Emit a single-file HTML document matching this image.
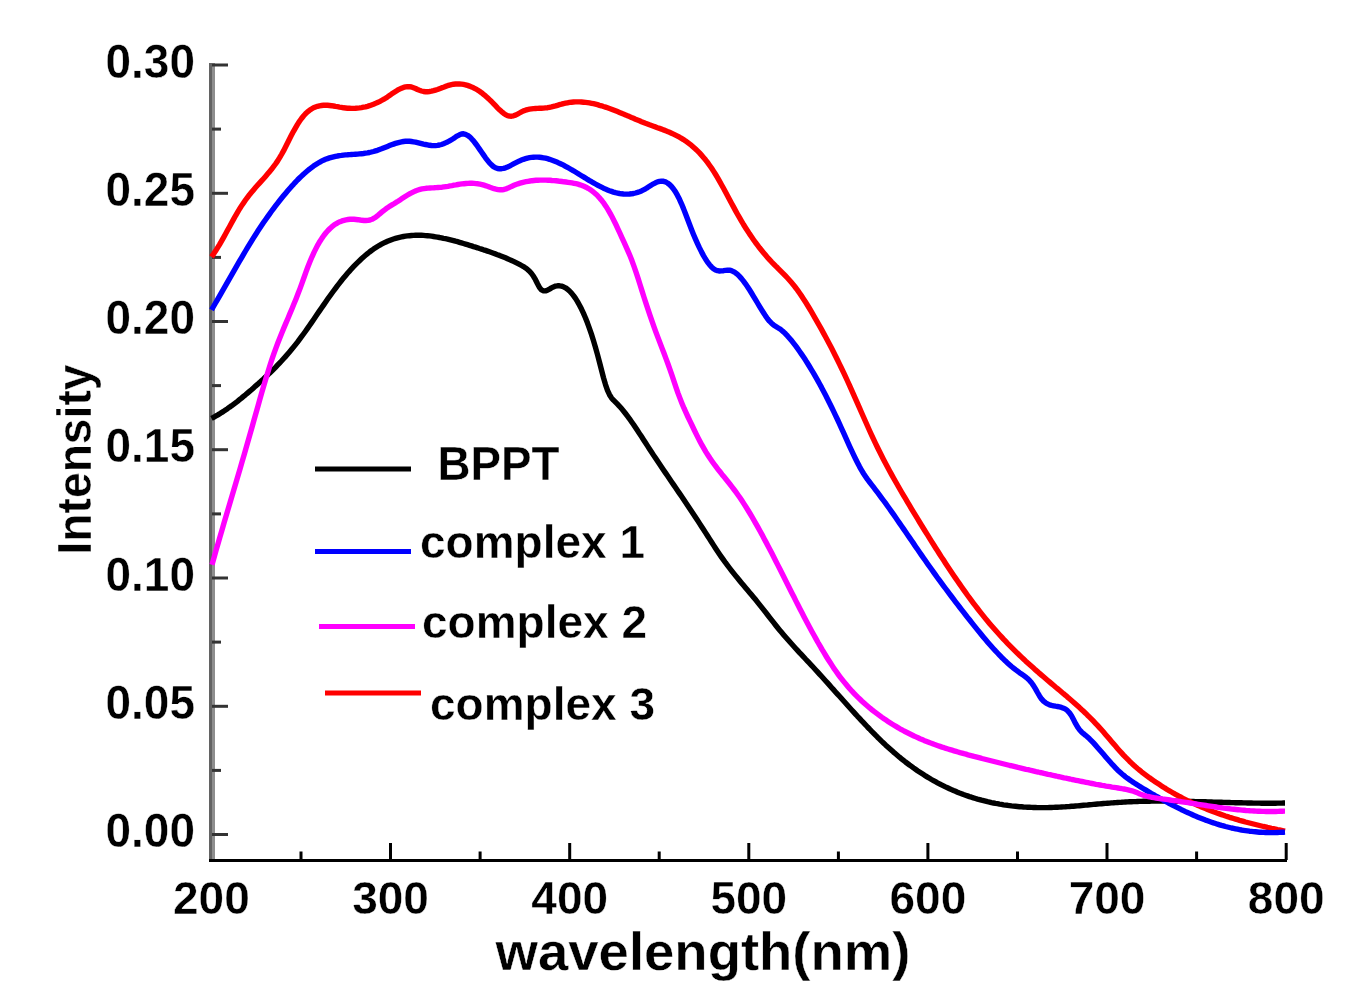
<!DOCTYPE html>
<html><head><meta charset="utf-8"><style>
html,body{margin:0;padding:0;background:#fff;}
svg{display:block;filter:blur(0.45px);}
text{font-family:"Liberation Sans",sans-serif;font-weight:bold;font-size:46px;fill:#000;stroke:#fff;stroke-width:0.40px;}
</style></head><body>
<svg width="1345" height="1007" viewBox="0 0 1345 1007">
<rect x="209" y="63" width="3" height="799" fill="#636363"/>
<rect x="212" y="63" width="3" height="796" fill="#8e8e8e"/>
<rect x="209" y="859" width="1078" height="3" fill="#000"/>
<rect x="212" y="833.0" width="16" height="3" fill="#333"/>
<rect x="212" y="768.9" width="9" height="3" fill="#333"/>
<rect x="212" y="704.8" width="16" height="3" fill="#333"/>
<rect x="212" y="640.6" width="9" height="3" fill="#333"/>
<rect x="212" y="576.5" width="16" height="3" fill="#333"/>
<rect x="212" y="512.4" width="9" height="3" fill="#333"/>
<rect x="212" y="448.2" width="16" height="3" fill="#333"/>
<rect x="212" y="384.1" width="9" height="3" fill="#333"/>
<rect x="212" y="320.0" width="16" height="3" fill="#333"/>
<rect x="212" y="255.9" width="9" height="3" fill="#333"/>
<rect x="212" y="191.8" width="16" height="3" fill="#333"/>
<rect x="212" y="127.6" width="9" height="3" fill="#333"/>
<rect x="212" y="63.5" width="16" height="3" fill="#333"/>
<rect x="299.5" y="851.5" width="3" height="8.5" fill="#000"/>
<rect x="389.0" y="843.0" width="3" height="17.0" fill="#000"/>
<rect x="478.6" y="851.5" width="3" height="8.5" fill="#000"/>
<rect x="568.2" y="843.0" width="3" height="17.0" fill="#000"/>
<rect x="657.7" y="851.5" width="3" height="8.5" fill="#000"/>
<rect x="747.3" y="843.0" width="3" height="17.0" fill="#000"/>
<rect x="836.9" y="851.5" width="3" height="8.5" fill="#000"/>
<rect x="926.4" y="843.0" width="3" height="17.0" fill="#000"/>
<rect x="1016.0" y="851.5" width="3" height="8.5" fill="#000"/>
<rect x="1105.5" y="843.0" width="3" height="17.0" fill="#000"/>
<rect x="1195.1" y="851.5" width="3" height="8.5" fill="#000"/>
<rect x="1284.7" y="843.0" width="3" height="17.0" fill="#000"/>
<path d="M211.5,418.4 L213.5,417.4 L215.5,416.2 L217.5,415.1 L219.5,413.9 L221.5,412.6 L223.5,411.4 L225.5,410.0 L227.5,408.7 L229.5,407.2 L231.5,405.8 L233.5,404.3 L235.5,402.8 L237.5,401.3 L239.5,399.7 L241.5,398.1 L243.5,396.4 L245.5,394.8 L247.5,393.1 L249.5,391.4 L251.5,389.7 L253.5,387.9 L255.5,386.1 L257.5,384.4 L259.5,382.6 L261.5,380.7 L263.5,378.9 L265.5,377.0 L267.5,375.2 L269.5,373.2 L271.5,371.3 L273.5,369.3 L275.5,367.3 L277.5,365.2 L279.5,363.1 L281.5,361.0 L283.5,358.8 L285.5,356.6 L287.5,354.3 L289.5,352.0 L291.5,349.6 L293.5,347.1 L295.5,344.6 L297.5,342.1 L299.5,339.4 L301.5,336.7 L303.5,334.0 L305.5,331.2 L307.5,328.4 L309.5,325.5 L311.5,322.6 L313.5,319.7 L315.5,316.8 L317.5,313.8 L319.5,310.9 L321.5,308.0 L323.5,305.1 L325.5,302.2 L327.5,299.3 L329.5,296.5 L331.5,293.7 L333.5,291.0 L335.5,288.3 L337.5,285.6 L339.5,283.1 L341.5,280.5 L343.5,278.1 L345.5,275.7 L347.5,273.3 L349.5,271.1 L351.5,268.8 L353.5,266.7 L355.5,264.6 L357.5,262.6 L359.5,260.7 L361.5,258.8 L363.5,257.0 L365.5,255.3 L367.5,253.6 L369.5,252.0 L371.5,250.5 L373.5,249.1 L375.5,247.8 L377.5,246.5 L379.5,245.3 L381.5,244.2 L383.5,243.2 L385.5,242.2 L387.5,241.3 L389.5,240.5 L391.5,239.7 L393.5,239.0 L395.5,238.4 L397.5,237.8 L399.5,237.3 L401.5,236.9 L403.5,236.5 L405.5,236.2 L407.5,235.9 L409.5,235.7 L411.5,235.5 L413.5,235.4 L415.5,235.3 L417.5,235.3 L419.5,235.3 L421.5,235.3 L423.5,235.4 L425.5,235.6 L427.5,235.7 L429.5,235.9 L431.5,236.2 L433.5,236.5 L435.5,236.8 L437.5,237.1 L439.5,237.5 L441.5,237.8 L443.5,238.3 L445.5,238.7 L447.5,239.1 L449.5,239.6 L451.5,240.1 L453.5,240.6 L455.5,241.2 L457.5,241.7 L459.5,242.3 L461.5,242.9 L463.5,243.5 L465.5,244.1 L467.5,244.7 L469.5,245.3 L471.5,245.9 L473.5,246.6 L475.5,247.2 L477.5,247.8 L479.5,248.5 L481.5,249.1 L483.5,249.8 L485.5,250.4 L487.5,251.1 L489.5,251.8 L491.5,252.5 L493.5,253.2 L495.5,253.9 L497.5,254.7 L499.5,255.4 L501.5,256.2 L503.5,257.0 L505.5,257.8 L507.5,258.7 L509.5,259.6 L511.5,260.5 L513.5,261.4 L515.5,262.4 L517.5,263.4 L519.5,264.4 L521.5,265.5 L523.5,266.6 L525.5,267.9 L527.5,269.4 L529.5,271.2 L531.5,273.5 L533.5,276.3 L535.5,279.7 L537.5,283.8 L539.5,287.6 L541.5,289.9 L543.5,290.9 L545.5,290.9 L547.5,290.2 L549.5,289.1 L551.5,287.9 L553.5,286.9 L555.5,286.1 L557.5,285.8 L559.5,285.8 L561.5,286.1 L563.5,286.8 L565.5,287.8 L567.5,289.2 L569.5,291.0 L571.5,293.1 L573.5,295.6 L575.5,298.4 L577.5,301.6 L579.5,305.2 L581.5,309.1 L583.5,313.4 L585.5,318.0 L587.5,323.1 L589.5,328.6 L591.5,334.4 L593.5,340.7 L595.5,347.4 L597.5,354.6 L599.5,362.2 L601.5,370.0 L603.5,377.7 L605.5,384.6 L607.5,390.4 L609.5,394.7 L611.5,397.9 L613.5,400.2 L615.5,402.2 L617.5,404.2 L619.5,406.3 L621.5,408.6 L623.5,411.0 L625.5,413.5 L627.5,416.1 L629.5,418.8 L631.5,421.7 L633.5,424.5 L635.5,427.5 L637.5,430.5 L639.5,433.6 L641.5,436.6 L643.5,439.7 L645.5,442.8 L647.5,445.9 L649.5,449.0 L651.5,452.0 L653.5,455.1 L655.5,458.1 L657.5,461.1 L659.5,464.0 L661.5,467.0 L663.5,470.0 L665.5,472.9 L667.5,475.8 L669.5,478.8 L671.5,481.7 L673.5,484.6 L675.5,487.5 L677.5,490.5 L679.5,493.4 L681.5,496.3 L683.5,499.3 L685.5,502.2 L687.5,505.2 L689.5,508.2 L691.5,511.2 L693.5,514.2 L695.5,517.3 L697.5,520.3 L699.5,523.4 L701.5,526.5 L703.5,529.5 L705.5,532.6 L707.5,535.8 L709.5,538.9 L711.5,542.0 L713.5,545.1 L715.5,548.2 L717.5,551.2 L719.5,554.2 L721.5,557.1 L723.5,559.9 L725.5,562.7 L727.5,565.3 L729.5,568.0 L731.5,570.6 L733.5,573.1 L735.5,575.6 L737.5,578.0 L739.5,580.5 L741.5,582.9 L743.5,585.3 L745.5,587.7 L747.5,590.1 L749.5,592.4 L751.5,594.8 L753.5,597.2 L755.5,599.6 L757.5,602.1 L759.5,604.6 L761.5,607.1 L763.5,609.6 L765.5,612.2 L767.5,614.7 L769.5,617.3 L771.5,619.9 L773.5,622.4 L775.5,625.0 L777.5,627.5 L779.5,629.9 L781.5,632.3 L783.5,634.7 L785.5,637.0 L787.5,639.3 L789.5,641.6 L791.5,643.8 L793.5,646.0 L795.5,648.2 L797.5,650.4 L799.5,652.6 L801.5,654.7 L803.5,656.8 L805.5,659.0 L807.5,661.1 L809.5,663.2 L811.5,665.4 L813.5,667.5 L815.5,669.7 L817.5,671.9 L819.5,674.1 L821.5,676.3 L823.5,678.5 L825.5,680.7 L827.5,682.9 L829.5,685.1 L831.5,687.4 L833.5,689.6 L835.5,691.9 L837.5,694.1 L839.5,696.3 L841.5,698.6 L843.5,700.8 L845.5,703.0 L847.5,705.3 L849.5,707.5 L851.5,709.7 L853.5,711.9 L855.5,714.1 L857.5,716.3 L859.5,718.4 L861.5,720.6 L863.5,722.7 L865.5,724.8 L867.5,727.0 L869.5,729.0 L871.5,731.1 L873.5,733.1 L875.5,735.2 L877.5,737.2 L879.5,739.1 L881.5,741.1 L883.5,743.0 L885.5,744.9 L887.5,746.7 L889.5,748.5 L891.5,750.3 L893.5,752.1 L895.5,753.8 L897.5,755.5 L899.5,757.2 L901.5,758.8 L903.5,760.4 L905.5,762.0 L907.5,763.5 L909.5,765.0 L911.5,766.4 L913.5,767.9 L915.5,769.3 L917.5,770.7 L919.5,772.0 L921.5,773.3 L923.5,774.6 L925.5,775.9 L927.5,777.1 L929.5,778.3 L931.5,779.5 L933.5,780.6 L935.5,781.7 L937.5,782.8 L939.5,783.8 L941.5,784.9 L943.5,785.9 L945.5,786.9 L947.5,787.8 L949.5,788.7 L951.5,789.6 L953.5,790.5 L955.5,791.3 L957.5,792.2 L959.5,793.0 L961.5,793.7 L963.5,794.5 L965.5,795.2 L967.5,795.9 L969.5,796.6 L971.5,797.2 L973.5,797.9 L975.5,798.5 L977.5,799.1 L979.5,799.6 L981.5,800.2 L983.5,800.7 L985.5,801.2 L987.5,801.7 L989.5,802.1 L991.5,802.6 L993.5,803.0 L995.5,803.4 L997.5,803.7 L999.5,804.1 L1001.5,804.4 L1003.5,804.8 L1005.5,805.1 L1007.5,805.3 L1009.5,805.6 L1011.5,805.9 L1013.5,806.1 L1015.5,806.3 L1017.5,806.5 L1019.5,806.7 L1021.5,806.8 L1023.5,807.0 L1025.5,807.1 L1027.5,807.2 L1029.5,807.3 L1031.5,807.4 L1033.5,807.5 L1035.5,807.5 L1037.5,807.6 L1039.5,807.6 L1041.5,807.6 L1043.5,807.6 L1045.5,807.6 L1047.5,807.6 L1049.5,807.5 L1051.5,807.5 L1053.5,807.4 L1055.5,807.3 L1057.5,807.2 L1059.5,807.1 L1061.5,807.0 L1063.5,806.9 L1065.5,806.8 L1067.5,806.6 L1069.5,806.5 L1071.5,806.3 L1073.5,806.2 L1075.5,806.0 L1077.5,805.9 L1079.5,805.7 L1081.5,805.5 L1083.5,805.3 L1085.5,805.1 L1087.5,805.0 L1089.5,804.8 L1091.5,804.6 L1093.5,804.4 L1095.5,804.2 L1097.5,804.0 L1099.5,803.9 L1101.5,803.7 L1103.5,803.5 L1105.5,803.4 L1107.5,803.2 L1109.5,803.1 L1111.5,802.9 L1113.5,802.8 L1115.5,802.6 L1117.5,802.5 L1119.5,802.4 L1121.5,802.3 L1123.5,802.1 L1125.5,802.0 L1127.5,801.9 L1129.5,801.8 L1131.5,801.7 L1133.5,801.6 L1135.5,801.6 L1137.5,801.5 L1139.5,801.4 L1141.5,801.4 L1143.5,801.3 L1145.5,801.3 L1147.5,801.2 L1149.5,801.2 L1151.5,801.1 L1153.5,801.1 L1155.5,801.1 L1157.5,801.1 L1159.5,801.1 L1161.5,801.1 L1163.5,801.1 L1165.5,801.1 L1167.5,801.1 L1169.5,801.1 L1171.5,801.1 L1173.5,801.1 L1175.5,801.2 L1177.5,801.2 L1179.5,801.2 L1181.5,801.2 L1183.5,801.3 L1185.5,801.3 L1187.5,801.4 L1189.5,801.4 L1191.5,801.5 L1193.5,801.5 L1195.5,801.6 L1197.5,801.6 L1199.5,801.7 L1201.5,801.7 L1203.5,801.8 L1205.5,801.8 L1207.5,801.9 L1209.5,801.9 L1211.5,802.0 L1213.5,802.1 L1215.5,802.1 L1217.5,802.2 L1219.5,802.2 L1221.5,802.3 L1223.5,802.4 L1225.5,802.4 L1227.5,802.5 L1229.5,802.5 L1231.5,802.6 L1233.5,802.6 L1235.5,802.7 L1237.5,802.7 L1239.5,802.8 L1241.5,802.8 L1243.5,802.9 L1245.5,802.9 L1247.5,803.0 L1249.5,803.0 L1251.5,803.0 L1253.5,803.1 L1255.5,803.1 L1257.5,803.1 L1259.5,803.1 L1261.5,803.2 L1263.5,803.2 L1265.5,803.2 L1267.5,803.2 L1269.5,803.2 L1271.5,803.2 L1273.5,803.2 L1275.5,803.2 L1277.5,803.1 L1279.5,803.1 L1281.5,803.1 L1283.5,803.0 L1285.0,803.0" fill="none" stroke="#000" stroke-width="5.4" stroke-linejoin="round"/>
<path d="M211.5,256.9 L213.5,254.1 L215.5,251.1 L217.5,247.9 L219.5,244.6 L221.5,241.1 L223.5,237.6 L225.5,234.0 L227.5,230.3 L229.5,226.7 L231.5,223.0 L233.5,219.4 L235.5,215.8 L237.5,212.4 L239.5,209.0 L241.5,205.9 L243.5,202.9 L245.5,200.0 L247.5,197.3 L249.5,194.7 L251.5,192.3 L253.5,189.9 L255.5,187.6 L257.5,185.3 L259.5,183.1 L261.5,180.9 L263.5,178.7 L265.5,176.4 L267.5,174.1 L269.5,171.7 L271.5,169.3 L273.5,166.7 L275.5,164.0 L277.5,161.1 L279.5,157.9 L281.5,154.5 L283.5,150.9 L285.5,147.0 L287.5,143.0 L289.5,139.0 L291.5,135.1 L293.5,131.3 L295.5,127.8 L297.5,124.4 L299.5,121.3 L301.5,118.5 L303.5,116.0 L305.5,113.8 L307.5,111.9 L309.5,110.3 L311.5,109.0 L313.5,107.8 L315.5,107.0 L317.5,106.3 L319.5,105.8 L321.5,105.5 L323.5,105.3 L325.5,105.3 L327.5,105.3 L329.5,105.5 L331.5,105.7 L333.5,106.0 L335.5,106.4 L337.5,106.7 L339.5,107.1 L341.5,107.4 L343.5,107.8 L345.5,108.0 L347.5,108.2 L349.5,108.3 L351.5,108.4 L353.5,108.4 L355.5,108.3 L357.5,108.1 L359.5,107.9 L361.5,107.6 L363.5,107.2 L365.5,106.8 L367.5,106.3 L369.5,105.7 L371.5,105.0 L373.5,104.3 L375.5,103.4 L377.5,102.5 L379.5,101.6 L381.5,100.5 L383.5,99.4 L385.5,98.2 L387.5,96.9 L389.5,95.5 L391.5,94.1 L393.5,92.8 L395.5,91.5 L397.5,90.2 L399.5,89.1 L401.5,88.2 L403.5,87.4 L405.5,86.9 L407.5,86.6 L409.5,86.7 L411.5,87.0 L413.5,87.7 L415.5,88.5 L417.5,89.5 L419.5,90.3 L421.5,91.0 L423.5,91.5 L425.5,91.7 L427.5,91.7 L429.5,91.5 L431.5,91.2 L433.5,90.7 L435.5,90.1 L437.5,89.5 L439.5,88.7 L441.5,87.9 L443.5,87.2 L445.5,86.4 L447.5,85.7 L449.5,85.1 L451.5,84.6 L453.5,84.2 L455.5,84.0 L457.5,83.9 L459.5,84.0 L461.5,84.1 L463.5,84.4 L465.5,84.8 L467.5,85.4 L469.5,86.1 L471.5,86.9 L473.5,87.8 L475.5,88.8 L477.5,90.0 L479.5,91.3 L481.5,92.7 L483.5,94.3 L485.5,95.9 L487.5,97.7 L489.5,99.6 L491.5,101.5 L493.5,103.6 L495.5,105.7 L497.5,107.8 L499.5,109.8 L501.5,111.6 L503.5,113.2 L505.5,114.6 L507.5,115.6 L509.5,116.1 L511.5,116.2 L513.5,115.8 L515.5,115.1 L517.5,114.1 L519.5,113.0 L521.5,111.9 L523.5,110.9 L525.5,110.2 L527.5,109.6 L529.5,109.2 L531.5,108.9 L533.5,108.6 L535.5,108.5 L537.5,108.4 L539.5,108.3 L541.5,108.2 L543.5,108.1 L545.5,107.9 L547.5,107.7 L549.5,107.3 L551.5,106.9 L553.5,106.4 L555.5,105.9 L557.5,105.3 L559.5,104.7 L561.5,104.2 L563.5,103.6 L565.5,103.2 L567.5,102.8 L569.5,102.4 L571.5,102.2 L573.5,102.0 L575.5,101.9 L577.5,101.9 L579.5,101.9 L581.5,102.0 L583.5,102.2 L585.5,102.4 L587.5,102.6 L589.5,102.9 L591.5,103.3 L593.5,103.7 L595.5,104.2 L597.5,104.7 L599.5,105.3 L601.5,105.8 L603.5,106.5 L605.5,107.1 L607.5,107.8 L609.5,108.5 L611.5,109.2 L613.5,110.0 L615.5,110.8 L617.5,111.6 L619.5,112.4 L621.5,113.2 L623.5,114.1 L625.5,114.9 L627.5,115.8 L629.5,116.6 L631.5,117.5 L633.5,118.3 L635.5,119.2 L637.5,120.0 L639.5,120.8 L641.5,121.7 L643.5,122.5 L645.5,123.3 L647.5,124.0 L649.5,124.8 L651.5,125.5 L653.5,126.2 L655.5,126.9 L657.5,127.7 L659.5,128.4 L661.5,129.1 L663.5,129.9 L665.5,130.6 L667.5,131.5 L669.5,132.3 L671.5,133.2 L673.5,134.1 L675.5,135.1 L677.5,136.1 L679.5,137.2 L681.5,138.4 L683.5,139.6 L685.5,140.9 L687.5,142.4 L689.5,143.9 L691.5,145.4 L693.5,147.2 L695.5,149.0 L697.5,150.9 L699.5,152.9 L701.5,155.1 L703.5,157.4 L705.5,159.8 L707.5,162.4 L709.5,165.2 L711.5,168.0 L713.5,171.1 L715.5,174.3 L717.5,177.6 L719.5,181.1 L721.5,184.7 L723.5,188.3 L725.5,192.0 L727.5,195.7 L729.5,199.5 L731.5,203.2 L733.5,206.9 L735.5,210.6 L737.5,214.2 L739.5,217.7 L741.5,221.1 L743.5,224.5 L745.5,227.7 L747.5,230.8 L749.5,233.9 L751.5,236.8 L753.5,239.7 L755.5,242.5 L757.5,245.1 L759.5,247.8 L761.5,250.3 L763.5,252.7 L765.5,255.1 L767.5,257.4 L769.5,259.6 L771.5,261.8 L773.5,263.8 L775.5,265.9 L777.5,267.8 L779.5,269.8 L781.5,271.8 L783.5,273.8 L785.5,275.9 L787.5,278.0 L789.5,280.2 L791.5,282.5 L793.5,284.9 L795.5,287.5 L797.5,290.1 L799.5,293.0 L801.5,295.9 L803.5,298.9 L805.5,302.0 L807.5,305.2 L809.5,308.5 L811.5,311.9 L813.5,315.3 L815.5,318.8 L817.5,322.3 L819.5,325.8 L821.5,329.4 L823.5,333.1 L825.5,336.8 L827.5,340.5 L829.5,344.3 L831.5,348.1 L833.5,352.0 L835.5,356.0 L837.5,360.0 L839.5,364.1 L841.5,368.2 L843.5,372.4 L845.5,376.6 L847.5,381.0 L849.5,385.4 L851.5,389.8 L853.5,394.3 L855.5,398.8 L857.5,403.4 L859.5,407.9 L861.5,412.5 L863.5,417.0 L865.5,421.5 L867.5,426.0 L869.5,430.5 L871.5,434.8 L873.5,439.1 L875.5,443.3 L877.5,447.5 L879.5,451.5 L881.5,455.5 L883.5,459.4 L885.5,463.2 L887.5,467.0 L889.5,470.7 L891.5,474.4 L893.5,478.0 L895.5,481.5 L897.5,485.0 L899.5,488.5 L901.5,492.0 L903.5,495.4 L905.5,498.7 L907.5,502.1 L909.5,505.4 L911.5,508.8 L913.5,512.1 L915.5,515.4 L917.5,518.7 L919.5,522.0 L921.5,525.2 L923.5,528.5 L925.5,531.7 L927.5,534.9 L929.5,538.2 L931.5,541.4 L933.5,544.5 L935.5,547.7 L937.5,550.8 L939.5,554.0 L941.5,557.1 L943.5,560.1 L945.5,563.2 L947.5,566.2 L949.5,569.2 L951.5,572.2 L953.5,575.2 L955.5,578.1 L957.5,581.0 L959.5,583.9 L961.5,586.8 L963.5,589.6 L965.5,592.4 L967.5,595.2 L969.5,597.9 L971.5,600.6 L973.5,603.3 L975.5,605.9 L977.5,608.5 L979.5,611.1 L981.5,613.6 L983.5,616.1 L985.5,618.6 L987.5,621.0 L989.5,623.4 L991.5,625.7 L993.5,628.0 L995.5,630.3 L997.5,632.5 L999.5,634.7 L1001.5,636.9 L1003.5,639.1 L1005.5,641.2 L1007.5,643.3 L1009.5,645.3 L1011.5,647.3 L1013.5,649.3 L1015.5,651.3 L1017.5,653.3 L1019.5,655.2 L1021.5,657.1 L1023.5,659.0 L1025.5,660.9 L1027.5,662.7 L1029.5,664.5 L1031.5,666.3 L1033.5,668.1 L1035.5,669.9 L1037.5,671.6 L1039.5,673.4 L1041.5,675.1 L1043.5,676.8 L1045.5,678.5 L1047.5,680.2 L1049.5,681.9 L1051.5,683.6 L1053.5,685.3 L1055.5,687.0 L1057.5,688.6 L1059.5,690.3 L1061.5,692.0 L1063.5,693.7 L1065.5,695.3 L1067.5,697.1 L1069.5,698.8 L1071.5,700.5 L1073.5,702.2 L1075.5,704.0 L1077.5,705.8 L1079.5,707.6 L1081.5,709.5 L1083.5,711.3 L1085.5,713.2 L1087.5,715.2 L1089.5,717.1 L1091.5,719.1 L1093.5,721.2 L1095.5,723.3 L1097.5,725.4 L1099.5,727.6 L1101.5,729.8 L1103.5,732.1 L1105.5,734.4 L1107.5,736.7 L1109.5,739.1 L1111.5,741.4 L1113.5,743.8 L1115.5,746.1 L1117.5,748.4 L1119.5,750.7 L1121.5,752.9 L1123.5,755.1 L1125.5,757.2 L1127.5,759.2 L1129.5,761.2 L1131.5,763.1 L1133.5,765.0 L1135.5,766.8 L1137.5,768.5 L1139.5,770.1 L1141.5,771.8 L1143.5,773.3 L1145.5,774.8 L1147.5,776.3 L1149.5,777.8 L1151.5,779.2 L1153.5,780.6 L1155.5,782.0 L1157.5,783.3 L1159.5,784.6 L1161.5,785.9 L1163.5,787.2 L1165.5,788.4 L1167.5,789.7 L1169.5,790.9 L1171.5,792.0 L1173.5,793.2 L1175.5,794.3 L1177.5,795.4 L1179.5,796.5 L1181.5,797.5 L1183.5,798.6 L1185.5,799.6 L1187.5,800.6 L1189.5,801.5 L1191.5,802.5 L1193.5,803.4 L1195.5,804.3 L1197.5,805.2 L1199.5,806.1 L1201.5,807.0 L1203.5,807.8 L1205.5,808.6 L1207.5,809.4 L1209.5,810.2 L1211.5,811.0 L1213.5,811.8 L1215.5,812.5 L1217.5,813.2 L1219.5,813.9 L1221.5,814.6 L1223.5,815.3 L1225.5,816.0 L1227.5,816.6 L1229.5,817.3 L1231.5,817.9 L1233.5,818.5 L1235.5,819.1 L1237.5,819.7 L1239.5,820.3 L1241.5,820.8 L1243.5,821.4 L1245.5,822.0 L1247.5,822.5 L1249.5,823.0 L1251.5,823.5 L1253.5,824.0 L1255.5,824.5 L1257.5,825.0 L1259.5,825.5 L1261.5,826.0 L1263.5,826.5 L1265.5,826.9 L1267.5,827.4 L1269.5,827.8 L1271.5,828.3 L1273.5,828.7 L1275.5,829.1 L1277.5,829.6 L1279.5,830.0 L1281.5,830.4 L1283.5,830.8 L1285.0,831.1" fill="none" stroke="#f00" stroke-width="5.4" stroke-linejoin="round"/>
<path d="M211.5,309.9 L213.5,306.5 L215.5,303.0 L217.5,299.6 L219.5,296.1 L221.5,292.6 L223.5,289.2 L225.5,285.7 L227.5,282.1 L229.5,278.6 L231.5,275.1 L233.5,271.6 L235.5,268.1 L237.5,264.7 L239.5,261.2 L241.5,257.8 L243.5,254.4 L245.5,251.0 L247.5,247.7 L249.5,244.4 L251.5,241.1 L253.5,237.9 L255.5,234.8 L257.5,231.6 L259.5,228.6 L261.5,225.6 L263.5,222.6 L265.5,219.7 L267.5,216.9 L269.5,214.1 L271.5,211.3 L273.5,208.6 L275.5,205.9 L277.5,203.3 L279.5,200.8 L281.5,198.3 L283.5,195.8 L285.5,193.4 L287.5,191.0 L289.5,188.7 L291.5,186.4 L293.5,184.3 L295.5,182.1 L297.5,180.0 L299.5,178.0 L301.5,176.1 L303.5,174.2 L305.5,172.5 L307.5,170.8 L309.5,169.1 L311.5,167.6 L313.5,166.1 L315.5,164.8 L317.5,163.5 L319.5,162.3 L321.5,161.2 L323.5,160.2 L325.5,159.3 L327.5,158.6 L329.5,157.9 L331.5,157.3 L333.5,156.8 L335.5,156.3 L337.5,156.0 L339.5,155.6 L341.5,155.4 L343.5,155.1 L345.5,154.9 L347.5,154.8 L349.5,154.6 L351.5,154.5 L353.5,154.4 L355.5,154.2 L357.5,154.1 L359.5,153.9 L361.5,153.7 L363.5,153.5 L365.5,153.2 L367.5,152.9 L369.5,152.5 L371.5,152.0 L373.5,151.5 L375.5,150.9 L377.5,150.3 L379.5,149.5 L381.5,148.8 L383.5,148.0 L385.5,147.2 L387.5,146.4 L389.5,145.6 L391.5,144.8 L393.5,144.1 L395.5,143.4 L397.5,142.8 L399.5,142.3 L401.5,141.9 L403.5,141.5 L405.5,141.3 L407.5,141.2 L409.5,141.3 L411.5,141.5 L413.5,141.8 L415.5,142.1 L417.5,142.6 L419.5,143.1 L421.5,143.6 L423.5,144.1 L425.5,144.5 L427.5,144.9 L429.5,145.3 L431.5,145.5 L433.5,145.6 L435.5,145.6 L437.5,145.4 L439.5,145.0 L441.5,144.5 L443.5,143.8 L445.5,142.9 L447.5,142.0 L449.5,140.9 L451.5,139.7 L453.5,138.5 L455.5,137.1 L457.5,135.8 L459.5,134.8 L461.5,134.0 L463.5,133.8 L465.5,134.3 L467.5,135.3 L469.5,136.7 L471.5,138.7 L473.5,140.9 L475.5,143.5 L477.5,146.2 L479.5,149.1 L481.5,152.0 L483.5,154.9 L485.5,157.8 L487.5,160.4 L489.5,162.9 L491.5,164.9 L493.5,166.6 L495.5,167.8 L497.5,168.5 L499.5,168.8 L501.5,168.7 L503.5,168.4 L505.5,167.8 L507.5,167.0 L509.5,166.1 L511.5,165.0 L513.5,163.9 L515.5,162.9 L517.5,161.9 L519.5,160.9 L521.5,160.1 L523.5,159.3 L525.5,158.7 L527.5,158.1 L529.5,157.7 L531.5,157.4 L533.5,157.2 L535.5,157.1 L537.5,157.1 L539.5,157.3 L541.5,157.5 L543.5,157.8 L545.5,158.2 L547.5,158.7 L549.5,159.3 L551.5,160.0 L553.5,160.7 L555.5,161.5 L557.5,162.3 L559.5,163.3 L561.5,164.2 L563.5,165.2 L565.5,166.3 L567.5,167.4 L569.5,168.5 L571.5,169.7 L573.5,170.8 L575.5,172.0 L577.5,173.2 L579.5,174.5 L581.5,175.7 L583.5,176.9 L585.5,178.1 L587.5,179.4 L589.5,180.6 L591.5,181.7 L593.5,182.9 L595.5,184.0 L597.5,185.1 L599.5,186.2 L601.5,187.2 L603.5,188.2 L605.5,189.1 L607.5,189.9 L609.5,190.7 L611.5,191.4 L613.5,192.1 L615.5,192.7 L617.5,193.1 L619.5,193.5 L621.5,193.8 L623.5,194.0 L625.5,194.1 L627.5,194.1 L629.5,194.0 L631.5,193.8 L633.5,193.5 L635.5,193.0 L637.5,192.4 L639.5,191.7 L641.5,190.9 L643.5,189.9 L645.5,188.8 L647.5,187.6 L649.5,186.3 L651.5,185.0 L653.5,183.8 L655.5,182.8 L657.5,181.9 L659.5,181.4 L661.5,181.1 L663.5,181.3 L665.5,181.9 L667.5,183.0 L669.5,184.5 L671.5,186.5 L673.5,189.0 L675.5,191.9 L677.5,195.4 L679.5,199.3 L681.5,203.8 L683.5,208.6 L685.5,213.8 L687.5,219.0 L689.5,224.3 L691.5,229.4 L693.5,234.4 L695.5,239.1 L697.5,243.6 L699.5,247.9 L701.5,251.9 L703.5,255.6 L705.5,259.0 L707.5,262.1 L709.5,264.7 L711.5,266.9 L713.5,268.7 L715.5,270.0 L717.5,270.7 L719.5,271.0 L721.5,270.9 L723.5,270.7 L725.5,270.4 L727.5,270.2 L729.5,270.2 L731.5,270.7 L733.5,271.6 L735.5,272.8 L737.5,274.4 L739.5,276.4 L741.5,278.6 L743.5,281.1 L745.5,283.8 L747.5,286.7 L749.5,289.8 L751.5,293.0 L753.5,296.3 L755.5,299.6 L757.5,303.0 L759.5,306.3 L761.5,309.6 L763.5,312.8 L765.5,315.9 L767.5,318.7 L769.5,321.2 L771.5,323.2 L773.5,324.9 L775.5,326.2 L777.5,327.5 L779.5,328.7 L781.5,330.2 L783.5,331.9 L785.5,333.8 L787.5,335.9 L789.5,338.2 L791.5,340.6 L793.5,343.1 L795.5,345.7 L797.5,348.4 L799.5,351.2 L801.5,354.1 L803.5,357.1 L805.5,360.1 L807.5,363.3 L809.5,366.5 L811.5,369.8 L813.5,373.1 L815.5,376.6 L817.5,380.1 L819.5,383.8 L821.5,387.4 L823.5,391.2 L825.5,395.0 L827.5,399.0 L829.5,402.9 L831.5,407.0 L833.5,411.1 L835.5,415.3 L837.5,419.5 L839.5,423.9 L841.5,428.3 L843.5,432.7 L845.5,437.2 L847.5,441.6 L849.5,446.1 L851.5,450.4 L853.5,454.7 L855.5,458.8 L857.5,462.8 L859.5,466.6 L861.5,470.2 L863.5,473.5 L865.5,476.5 L867.5,479.4 L869.5,482.0 L871.5,484.6 L873.5,487.2 L875.5,489.8 L877.5,492.4 L879.5,495.1 L881.5,497.8 L883.5,500.5 L885.5,503.2 L887.5,506.0 L889.5,508.8 L891.5,511.6 L893.5,514.4 L895.5,517.3 L897.5,520.2 L899.5,523.1 L901.5,526.0 L903.5,528.9 L905.5,531.8 L907.5,534.7 L909.5,537.6 L911.5,540.5 L913.5,543.4 L915.5,546.4 L917.5,549.3 L919.5,552.2 L921.5,555.1 L923.5,558.0 L925.5,560.8 L927.5,563.7 L929.5,566.5 L931.5,569.3 L933.5,572.1 L935.5,574.9 L937.5,577.7 L939.5,580.4 L941.5,583.1 L943.5,585.8 L945.5,588.5 L947.5,591.2 L949.5,593.9 L951.5,596.5 L953.5,599.2 L955.5,601.8 L957.5,604.4 L959.5,607.0 L961.5,609.6 L963.5,612.2 L965.5,614.7 L967.5,617.3 L969.5,619.8 L971.5,622.4 L973.5,624.9 L975.5,627.4 L977.5,629.9 L979.5,632.3 L981.5,634.8 L983.5,637.2 L985.5,639.5 L987.5,641.9 L989.5,644.2 L991.5,646.5 L993.5,648.7 L995.5,650.9 L997.5,653.0 L999.5,655.1 L1001.5,657.2 L1003.5,659.1 L1005.5,661.1 L1007.5,662.9 L1009.5,664.7 L1011.5,666.5 L1013.5,668.1 L1015.5,669.7 L1017.5,671.2 L1019.5,672.7 L1021.5,674.0 L1023.5,675.4 L1025.5,676.9 L1027.5,678.5 L1029.5,680.4 L1031.5,682.8 L1033.5,685.6 L1035.5,688.9 L1037.5,692.5 L1039.5,695.9 L1041.5,698.9 L1043.5,701.1 L1045.5,702.7 L1047.5,703.9 L1049.5,704.8 L1051.5,705.4 L1053.5,705.8 L1055.5,706.2 L1057.5,706.5 L1059.5,706.9 L1061.5,707.4 L1063.5,708.2 L1065.5,709.2 L1067.5,710.7 L1069.5,712.9 L1071.5,715.8 L1073.5,719.5 L1075.5,723.4 L1077.5,726.9 L1079.5,729.7 L1081.5,731.9 L1083.5,733.7 L1085.5,735.3 L1087.5,737.0 L1089.5,738.8 L1091.5,740.8 L1093.5,742.9 L1095.5,745.1 L1097.5,747.4 L1099.5,749.7 L1101.5,752.0 L1103.5,754.3 L1105.5,756.7 L1107.5,759.0 L1109.5,761.3 L1111.5,763.6 L1113.5,765.7 L1115.5,767.8 L1117.5,769.9 L1119.5,771.7 L1121.5,773.5 L1123.5,775.2 L1125.5,776.8 L1127.5,778.3 L1129.5,779.7 L1131.5,781.1 L1133.5,782.5 L1135.5,783.7 L1137.5,785.0 L1139.5,786.2 L1141.5,787.5 L1143.5,788.7 L1145.5,789.9 L1147.5,791.1 L1149.5,792.3 L1151.5,793.5 L1153.5,794.6 L1155.5,795.8 L1157.5,796.9 L1159.5,798.1 L1161.5,799.2 L1163.5,800.3 L1165.5,801.4 L1167.5,802.5 L1169.5,803.6 L1171.5,804.6 L1173.5,805.7 L1175.5,806.7 L1177.5,807.7 L1179.5,808.7 L1181.5,809.7 L1183.5,810.6 L1185.5,811.6 L1187.5,812.5 L1189.5,813.4 L1191.5,814.3 L1193.5,815.2 L1195.5,816.1 L1197.5,816.9 L1199.5,817.7 L1201.5,818.5 L1203.5,819.3 L1205.5,820.1 L1207.5,820.8 L1209.5,821.5 L1211.5,822.2 L1213.5,822.9 L1215.5,823.5 L1217.5,824.2 L1219.5,824.8 L1221.5,825.4 L1223.5,825.9 L1225.5,826.5 L1227.5,827.0 L1229.5,827.5 L1231.5,828.0 L1233.5,828.4 L1235.5,828.8 L1237.5,829.2 L1239.5,829.6 L1241.5,830.0 L1243.5,830.3 L1245.5,830.6 L1247.5,830.9 L1249.5,831.2 L1251.5,831.4 L1253.5,831.6 L1255.5,831.8 L1257.5,832.0 L1259.5,832.2 L1261.5,832.3 L1263.5,832.4 L1265.5,832.5 L1267.5,832.5 L1269.5,832.6 L1271.5,832.6 L1273.5,832.6 L1275.5,832.6 L1277.5,832.5 L1279.5,832.4 L1281.5,832.3 L1283.5,832.2 L1285.0,832.1" fill="none" stroke="#00f" stroke-width="5.4" stroke-linejoin="round"/>
<path d="M212.0,564.8 L214.0,557.7 L216.0,550.6 L218.0,543.7 L220.0,536.8 L222.0,529.9 L224.0,523.1 L226.0,516.3 L228.0,509.5 L230.0,502.7 L232.0,496.0 L234.0,489.2 L236.0,482.5 L238.0,475.7 L240.0,468.9 L242.0,462.1 L244.0,455.2 L246.0,448.3 L248.0,441.3 L250.0,434.3 L252.0,427.2 L254.0,420.1 L256.0,413.0 L258.0,405.9 L260.0,398.8 L262.0,391.8 L264.0,384.9 L266.0,378.2 L268.0,371.7 L270.0,365.3 L272.0,359.2 L274.0,353.4 L276.0,347.8 L278.0,342.5 L280.0,337.4 L282.0,332.4 L284.0,327.6 L286.0,322.9 L288.0,318.2 L290.0,313.4 L292.0,308.7 L294.0,303.8 L296.0,298.9 L298.0,293.8 L300.0,288.6 L302.0,283.1 L304.0,277.5 L306.0,271.9 L308.0,266.5 L310.0,261.5 L312.0,256.8 L314.0,252.4 L316.0,248.4 L318.0,244.6 L320.0,241.2 L322.0,238.1 L324.0,235.3 L326.0,232.8 L328.0,230.5 L330.0,228.5 L332.0,226.7 L334.0,225.1 L336.0,223.8 L338.0,222.7 L340.0,221.7 L342.0,220.9 L344.0,220.3 L346.0,219.8 L348.0,219.5 L350.0,219.3 L352.0,219.3 L354.0,219.3 L356.0,219.5 L358.0,219.7 L360.0,220.0 L362.0,220.3 L364.0,220.5 L366.0,220.5 L368.0,220.4 L370.0,220.0 L372.0,219.3 L374.0,218.2 L376.0,216.9 L378.0,215.3 L380.0,213.6 L382.0,211.9 L384.0,210.3 L386.0,208.8 L388.0,207.4 L390.0,206.1 L392.0,204.9 L394.0,203.7 L396.0,202.4 L398.0,201.2 L400.0,199.9 L402.0,198.6 L404.0,197.3 L406.0,196.0 L408.0,194.8 L410.0,193.6 L412.0,192.6 L414.0,191.6 L416.0,190.7 L418.0,190.0 L420.0,189.4 L422.0,188.9 L424.0,188.6 L426.0,188.3 L428.0,188.1 L430.0,188.0 L432.0,187.9 L434.0,187.8 L436.0,187.6 L438.0,187.5 L440.0,187.4 L442.0,187.2 L444.0,186.9 L446.0,186.6 L448.0,186.3 L450.0,185.9 L452.0,185.6 L454.0,185.2 L456.0,184.9 L458.0,184.5 L460.0,184.2 L462.0,183.9 L464.0,183.7 L466.0,183.5 L468.0,183.4 L470.0,183.3 L472.0,183.3 L474.0,183.4 L476.0,183.6 L478.0,183.8 L480.0,184.2 L482.0,184.6 L484.0,185.2 L486.0,185.8 L488.0,186.5 L490.0,187.3 L492.0,188.0 L494.0,188.7 L496.0,189.2 L498.0,189.6 L500.0,189.8 L502.0,189.8 L504.0,189.5 L506.0,188.9 L508.0,188.1 L510.0,187.1 L512.0,186.2 L514.0,185.3 L516.0,184.5 L518.0,183.8 L520.0,183.2 L522.0,182.6 L524.0,182.1 L526.0,181.7 L528.0,181.3 L530.0,181.0 L532.0,180.7 L534.0,180.5 L536.0,180.3 L538.0,180.2 L540.0,180.1 L542.0,180.1 L544.0,180.1 L546.0,180.1 L548.0,180.2 L550.0,180.3 L552.0,180.5 L554.0,180.6 L556.0,180.8 L558.0,181.0 L560.0,181.3 L562.0,181.5 L564.0,181.8 L566.0,182.0 L568.0,182.3 L570.0,182.6 L572.0,182.9 L574.0,183.3 L576.0,183.7 L578.0,184.2 L580.0,184.8 L582.0,185.5 L584.0,186.3 L586.0,187.2 L588.0,188.3 L590.0,189.5 L592.0,190.9 L594.0,192.5 L596.0,194.2 L598.0,196.2 L600.0,198.4 L602.0,200.8 L604.0,203.4 L606.0,206.4 L608.0,209.6 L610.0,213.1 L612.0,216.8 L614.0,220.7 L616.0,224.8 L618.0,229.1 L620.0,233.4 L622.0,237.8 L624.0,242.2 L626.0,246.7 L628.0,251.1 L630.0,255.8 L632.0,260.8 L634.0,266.3 L636.0,272.1 L638.0,278.2 L640.0,284.5 L642.0,290.9 L644.0,297.2 L646.0,303.4 L648.0,309.4 L650.0,315.3 L652.0,321.1 L654.0,326.8 L656.0,332.3 L658.0,337.6 L660.0,342.9 L662.0,348.1 L664.0,353.3 L666.0,358.6 L668.0,364.0 L670.0,369.6 L672.0,375.4 L674.0,381.4 L676.0,387.4 L678.0,393.1 L680.0,398.4 L682.0,403.4 L684.0,408.2 L686.0,412.7 L688.0,417.0 L690.0,421.2 L692.0,425.3 L694.0,429.5 L696.0,433.6 L698.0,437.6 L700.0,441.5 L702.0,445.2 L704.0,448.7 L706.0,452.1 L708.0,455.2 L710.0,458.3 L712.0,461.2 L714.0,464.0 L716.0,466.7 L718.0,469.3 L720.0,471.8 L722.0,474.4 L724.0,476.8 L726.0,479.3 L728.0,481.8 L730.0,484.3 L732.0,486.9 L734.0,489.5 L736.0,492.2 L738.0,495.0 L740.0,497.8 L742.0,500.8 L744.0,503.9 L746.0,507.0 L748.0,510.2 L750.0,513.5 L752.0,516.9 L754.0,520.3 L756.0,523.8 L758.0,527.4 L760.0,531.0 L762.0,534.6 L764.0,538.4 L766.0,542.1 L768.0,545.9 L770.0,549.7 L772.0,553.6 L774.0,557.5 L776.0,561.4 L778.0,565.4 L780.0,569.3 L782.0,573.3 L784.0,577.3 L786.0,581.2 L788.0,585.2 L790.0,589.2 L792.0,593.2 L794.0,597.1 L796.0,601.1 L798.0,605.0 L800.0,608.9 L802.0,612.8 L804.0,616.7 L806.0,620.5 L808.0,624.3 L810.0,628.0 L812.0,631.7 L814.0,635.3 L816.0,638.9 L818.0,642.5 L820.0,645.9 L822.0,649.4 L824.0,652.7 L826.0,656.0 L828.0,659.2 L830.0,662.3 L832.0,665.4 L834.0,668.4 L836.0,671.3 L838.0,674.1 L840.0,676.8 L842.0,679.4 L844.0,681.9 L846.0,684.3 L848.0,686.7 L850.0,689.0 L852.0,691.2 L854.0,693.3 L856.0,695.4 L858.0,697.4 L860.0,699.3 L862.0,701.2 L864.0,703.0 L866.0,704.8 L868.0,706.5 L870.0,708.2 L872.0,709.8 L874.0,711.4 L876.0,712.9 L878.0,714.4 L880.0,715.9 L882.0,717.4 L884.0,718.8 L886.0,720.1 L888.0,721.4 L890.0,722.7 L892.0,724.0 L894.0,725.2 L896.0,726.4 L898.0,727.6 L900.0,728.8 L902.0,729.9 L904.0,731.0 L906.0,732.0 L908.0,733.0 L910.0,734.0 L912.0,735.0 L914.0,736.0 L916.0,736.9 L918.0,737.8 L920.0,738.7 L922.0,739.5 L924.0,740.4 L926.0,741.2 L928.0,742.0 L930.0,742.8 L932.0,743.5 L934.0,744.3 L936.0,745.0 L938.0,745.7 L940.0,746.4 L942.0,747.1 L944.0,747.7 L946.0,748.4 L948.0,749.0 L950.0,749.6 L952.0,750.2 L954.0,750.8 L956.0,751.4 L958.0,752.0 L960.0,752.6 L962.0,753.1 L964.0,753.7 L966.0,754.2 L968.0,754.8 L970.0,755.3 L972.0,755.8 L974.0,756.4 L976.0,756.9 L978.0,757.4 L980.0,757.9 L982.0,758.5 L984.0,759.0 L986.0,759.5 L988.0,760.0 L990.0,760.5 L992.0,761.0 L994.0,761.5 L996.0,762.0 L998.0,762.5 L1000.0,763.0 L1002.0,763.5 L1004.0,764.0 L1006.0,764.5 L1008.0,765.0 L1010.0,765.5 L1012.0,765.9 L1014.0,766.4 L1016.0,766.9 L1018.0,767.4 L1020.0,767.8 L1022.0,768.3 L1024.0,768.8 L1026.0,769.3 L1028.0,769.7 L1030.0,770.2 L1032.0,770.6 L1034.0,771.1 L1036.0,771.6 L1038.0,772.0 L1040.0,772.5 L1042.0,772.9 L1044.0,773.4 L1046.0,773.8 L1048.0,774.3 L1050.0,774.7 L1052.0,775.2 L1054.0,775.6 L1056.0,776.0 L1058.0,776.5 L1060.0,776.9 L1062.0,777.3 L1064.0,777.8 L1066.0,778.2 L1068.0,778.6 L1070.0,779.0 L1072.0,779.5 L1074.0,779.9 L1076.0,780.3 L1078.0,780.7 L1080.0,781.1 L1082.0,781.5 L1084.0,781.9 L1086.0,782.3 L1088.0,782.7 L1090.0,783.1 L1092.0,783.5 L1094.0,783.9 L1096.0,784.3 L1098.0,784.6 L1100.0,785.0 L1102.0,785.4 L1104.0,785.7 L1106.0,786.1 L1108.0,786.4 L1110.0,786.7 L1112.0,787.1 L1114.0,787.4 L1116.0,787.7 L1118.0,788.0 L1120.0,788.3 L1122.0,788.7 L1124.0,789.0 L1126.0,789.4 L1128.0,789.8 L1130.0,790.3 L1132.0,790.8 L1134.0,791.5 L1136.0,792.3 L1138.0,793.1 L1140.0,794.0 L1142.0,794.7 L1144.0,795.4 L1146.0,796.0 L1148.0,796.5 L1150.0,796.9 L1152.0,797.3 L1154.0,797.7 L1156.0,798.0 L1158.0,798.3 L1160.0,798.6 L1162.0,798.9 L1164.0,799.1 L1166.0,799.4 L1168.0,799.7 L1170.0,800.0 L1172.0,800.3 L1174.0,800.6 L1176.0,800.9 L1178.0,801.2 L1180.0,801.5 L1182.0,801.8 L1184.0,802.1 L1186.0,802.4 L1188.0,802.7 L1190.0,803.0 L1192.0,803.4 L1194.0,803.7 L1196.0,804.0 L1198.0,804.3 L1200.0,804.6 L1202.0,804.9 L1204.0,805.2 L1206.0,805.5 L1208.0,805.8 L1210.0,806.1 L1212.0,806.4 L1214.0,806.7 L1216.0,807.0 L1218.0,807.3 L1220.0,807.6 L1222.0,807.8 L1224.0,808.1 L1226.0,808.3 L1228.0,808.6 L1230.0,808.8 L1232.0,809.1 L1234.0,809.3 L1236.0,809.5 L1238.0,809.7 L1240.0,809.9 L1242.0,810.1 L1244.0,810.3 L1246.0,810.5 L1248.0,810.6 L1250.0,810.8 L1252.0,810.9 L1254.0,811.0 L1256.0,811.1 L1258.0,811.2 L1260.0,811.3 L1262.0,811.4 L1264.0,811.4 L1266.0,811.5 L1268.0,811.5 L1270.0,811.5 L1272.0,811.5 L1274.0,811.5 L1276.0,811.5 L1278.0,811.4 L1280.0,811.3 L1282.0,811.3 L1284.0,811.1 L1285.0,811.1" fill="none" stroke="#f0f" stroke-width="5.4" stroke-linejoin="round"/>
<rect x="315" y="466.5" width="96" height="5" fill="#000"/>
<rect x="315" y="549" width="96" height="5" fill="#00f"/>
<rect x="319" y="624" width="96" height="5" fill="#f0f"/>
<rect x="325" y="690.5" width="96" height="5" fill="#f00"/>
<text x="195" y="847.1" text-anchor="end" style="font-size:47.5px" textLength="89.5" lengthAdjust="spacingAndGlyphs">0.00</text>
<text x="195" y="718.9" text-anchor="end" style="font-size:47.5px" textLength="89.5" lengthAdjust="spacingAndGlyphs">0.05</text>
<text x="195" y="590.6" text-anchor="end" style="font-size:47.5px" textLength="89.5" lengthAdjust="spacingAndGlyphs">0.10</text>
<text x="195" y="462.3" text-anchor="end" style="font-size:47.5px" textLength="89.5" lengthAdjust="spacingAndGlyphs">0.15</text>
<text x="195" y="334.1" text-anchor="end" style="font-size:47.5px" textLength="89.5" lengthAdjust="spacingAndGlyphs">0.20</text>
<text x="195" y="205.8" text-anchor="end" style="font-size:47.5px" textLength="89.5" lengthAdjust="spacingAndGlyphs">0.25</text>
<text x="195" y="77.6" text-anchor="end" style="font-size:47.5px" textLength="89.5" lengthAdjust="spacingAndGlyphs">0.30</text>
<text x="211.4" y="913.7" text-anchor="middle">200</text>
<text x="390.5" y="913.7" text-anchor="middle">300</text>
<text x="569.7" y="913.7" text-anchor="middle">400</text>
<text x="748.8" y="913.7" text-anchor="middle">500</text>
<text x="927.9" y="913.7" text-anchor="middle">600</text>
<text x="1107.0" y="913.7" text-anchor="middle">700</text>
<text x="1286.2" y="913.7" text-anchor="middle">800</text>
<text x="437.5" y="480.2" style="font-size:48.5px" textLength="122" lengthAdjust="spacingAndGlyphs">BPPT</text>
<text x="420" y="557.5">complex 1</text>
<text x="422" y="637.5">complex 2</text>
<text x="430" y="719.8">complex 3</text>
<text transform="translate(91.2,459.5) rotate(-90)" text-anchor="middle" style="font-size:48px" textLength="190" lengthAdjust="spacingAndGlyphs">Intensity</text>
<text x="703" y="970" text-anchor="middle" style="font-size:54.5px">wavelength(nm)</text>
</svg>
</body></html>
